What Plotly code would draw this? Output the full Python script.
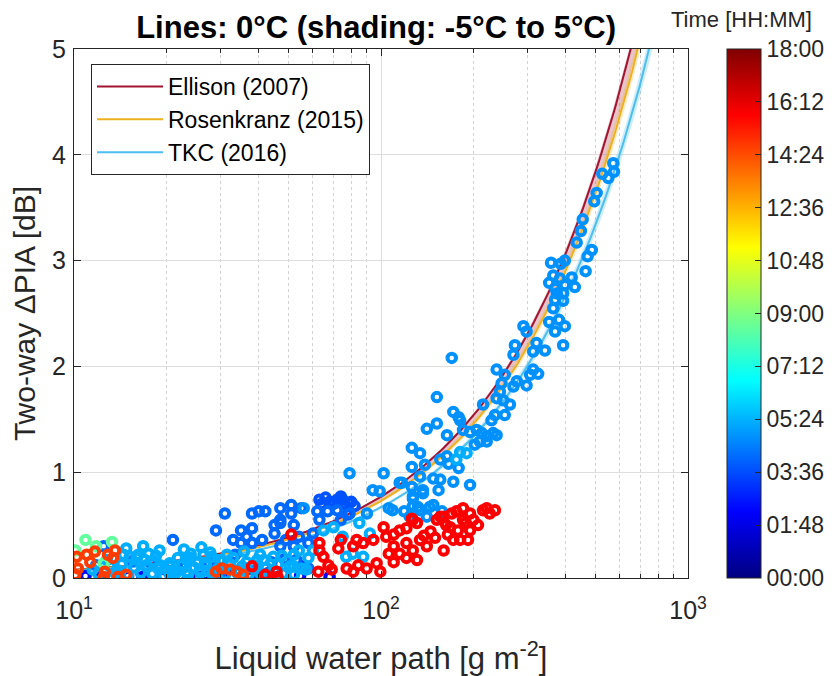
import numpy as np
import plotly.graph_objects as go

# ---------------- model relations (two-way dB per g m^-2) ----------------
model_names = ["Ellison (2007)", "Rosenkranz (2015)", "TKC (2016)"]
k_0C = [0.00768, 0.00728, 0.00668]
k_m5C = [0.00778, 0.00743, 0.00683]
k_p5C = [0.00734, 0.00712, 0.00652]
line_colors = ["#a2142f", "#edb120", "#4dbeee"]
band_colors = ["rgba(162,20,47,0.25)", "rgba(237,177,32,0.25)", "rgba(77,190,238,0.28)"]
lwp_grid = np.logspace(1, 3, 300)

# ---------------- observations (LWP g m^-2, dPIA dB), grouped by colour/time ----------------
# dark blue, ~02:24
lwp_g5 = [10.9, 12.2, 15.0, 16.7, 22.1, 25.3, 26.7, 32.7, 37.4, 54.5, 68, 56, 19.5, 29.0]
pia_g5 = [0.02, 0.01, 0.02, 0.01, 0.02, 0.01, 0.03, 0.02, 0.01, 0.02, 0.01, 0.11, 0.02, 0.02]
time_g5 = 2.4

# filled deep-blue cluster, ~03:40
lwp_g3 = [63, 68, 72, 75, 80, 79, 64, 70, 76, 66, 74, 78, 82]
pia_g3 = [0.74, 0.72, 0.74, 0.74, 0.72, 0.71, 0.70, 0.70, 0.70, 0.76, 0.77, 0.60, 0.68]
time_g3 = 3.7

# medium blue, ~04:05
lwp_g2 = [31, 38, 40, 42, 47, 51, 55, 51, 47, 45, 29, 21, 35, 36.5, 38, 33, 35, 38, 41, 45,
          47, 52, 49, 54, 60, 58, 52, 47, 62, 67, 72, 79, 63, 74, 12.5,
          15.5, 19.8, 27.5, 39, 44, 53, 58,
          11.8, 14.0, 17.8, 23.0, 30.0, 33.5, 43.0, 48.5]
pia_g2 = [0.61, 0.61, 0.63, 0.63, 0.66, 0.69, 0.66, 0.61, 0.55, 0.50, 0.45, 0.36, 0.45, 0.39, 0.47, 0.36, 0.33, 0.33, 0.36, 0.42,
          0.52, 0.50, 0.36, 0.39, 0.42, 0.33, 0.30, 0.30, 0.63, 0.63, 0.64, 0.61, 0.55, 0.55, 0.30,
          0.16, 0.08, 0.14, 0.07, 0.15, 0.17, 0.09,
          0.12, 0.05, 0.14, 0.11, 0.05, 0.22, 0.05, 0.18]
time_g2 = 4.1

# blue along the curves, ~04:48
lwp_g1 = [571, 574, 526, 550, 504, 495, 454, 448, 434, 486, 471, 464, 358, 385, 397, 364, 383, 418, 428, 353,
          369, 397, 374, 392, 369, 392, 364, 353, 380, 397, 369, 291, 298, 273, 321, 392, 270, 342, 313, 238,
          253, 313, 325, 306, 247, 277, 298, 270, 244, 238, 250, 215, 263, 253, 235, 229, 170, 152, 172, 179,
          181, 141, 152, 164, 185, 195, 205, 213, 221, 232, 238, 210, 221, 202, 164, 156, 166, 179, 126, 134,
          126, 139, 148, 156, 154, 172, 195, 117, 126, 137, 127, 134, 94, 99, 102, 79, 56, 90, 106, 115,
          127, 132, 144, 137, 127, 119, 109, 124, 134, 148, 141, 158]
pia_g1 = [3.92, 3.84, 3.82, 3.78, 3.64, 3.56, 3.39, 3.28, 3.17, 3.10, 3.04, 2.90, 2.98, 2.97, 3.00, 2.86, 2.83, 2.84, 2.75, 2.79,
          2.74, 2.77, 2.69, 2.69, 2.63, 2.62, 2.55, 2.42, 2.44, 2.38, 2.33, 2.38, 2.33, 2.20, 2.22, 2.20, 2.11, 2.15, 2.14, 1.97,
          1.92, 1.97, 1.93, 1.92, 1.84, 1.86, 1.82, 1.81, 1.76, 1.70, 1.68, 1.64, 1.64, 1.54, 1.54, 1.49, 2.08, 1.71, 1.57, 1.52,
          1.49, 1.41, 1.46, 1.35, 1.40, 1.38, 1.40, 1.37, 1.34, 1.37, 1.35, 1.29, 1.29, 1.26, 1.15, 1.12, 1.08, 1.04, 1.23, 1.18,
          1.05, 1.07, 0.94, 0.93, 0.83, 0.91, 0.88, 0.90, 0.86, 0.83, 0.75, 0.96, 0.83, 0.82, 0.99, 0.99, 0.66, 0.61, 0.66, 0.90,
          0.77, 0.67, 0.67, 0.80, 0.68, 0.63, 0.64, 0.58, 0.64, 0.69, 0.58, 0.63]
time_g1 = 4.8

# light blue, ~05:18
lwp_g4 = [13.1, 14.3, 15.7, 17.2, 18.8, 20.5, 22.5, 24.6, 26.9, 29.5, 32.2, 35.3, 38.6, 42.2, 46.2, 50.5, 55.3,
          12.0, 13.6, 15.0, 16.5, 18.0, 19.6, 21.5, 23.5, 25.8, 28.2, 31.0, 34.0, 37.0, 40.5, 44.0, 48.0, 52.0,
          14.5, 16.2, 17.5, 19.1, 20.5, 23.3, 25.1, 26.4, 28.1, 29.9, 33.0, 36.5, 40.4, 44.6, 20.5, 23.3, 25.7,
          54, 60, 52, 58, 65, 70, 75, 85, 92, 81, 87.5, 52, 57, 77, 181, 190, 176,
          11.5, 12.8, 14.0, 16.0, 18.2, 21.0, 24.0, 27.2, 30.5, 34.5, 39.5, 45.0,
          13.5, 15.2, 17.0, 18.5, 21.8, 24.0, 27.8, 31.5, 35.8, 41.5, 47.5, 14.8, 16.8, 19.0, 22.8, 26.0]
pia_g4 = [0.11, 0.13, 0.10, 0.12, 0.09, 0.11, 0.13, 0.10, 0.12, 0.09, 0.13, 0.11, 0.12, 0.10, 0.13, 0.11, 0.09,
          0.04, 0.05, 0.03, 0.05, 0.04, 0.02, 0.05, 0.03, 0.05, 0.04, 0.03, 0.05, 0.03, 0.04, 0.02, 0.04, 0.03,
          0.22, 0.22, 0.23, 0.12, 0.14, 0.17, 0.15, 0.22, 0.20, 0.17, 0.19, 0.15, 0.22, 0.20, 0.04, 0.06, 0.08,
          0.26, 0.26, 0.22, 0.19, 0.45, 0.48, 0.39, 0.52, 0.42, 0.23, 0.20, 0.11, 0.08, 0.20, 1.19, 1.18, 1.12,
          0.08, 0.17, 0.07, 0.19, 0.16, 0.07, 0.19, 0.07, 0.16, 0.07, 0.17, 0.07,
          0.18, 0.20, 0.17, 0.21, 0.19, 0.23, 0.24, 0.22, 0.25, 0.17, 0.21, 0.28, 0.30, 0.26, 0.27, 0.29]
time_g4 = 5.3

# green, ~08:30
lwp_g8 = [10.9, 13.3, 10.1, 12.5, 11.8]
pia_g8 = [0.36, 0.34, 0.26, 0.14, 0.30]
time_g8 = 8.5

# orange-red, ~14:40
lwp_g7 = [10.2, 11.0, 11.7, 11.3, 10.3, 10.1, 12.9, 13.6, 13.4, 12.6, 12.5, 13.9, 14.8, 29, 30.3, 32.2, 33.9, 35.6]
pia_g7 = [0.20, 0.22, 0.25, 0.15, 0.09, 0.03, 0.22, 0.26, 0.19, 0.06, 0.01, 0.01, 0.03, 0.06, 0.09, 0.08, 0.06, 0.03]
time_g7 = 14.7

# red, ~15:50
lwp_g6 = [63, 63, 64.9, 62.5, 67.4, 72.6, 74, 69.1, 77.3, 81.2, 84.3, 89.8, 81.2, 83.3, 87.5, 94.4, 96.8, 99.5, 51, 38,
          42, 45.7, 46, 126, 156, 170, 185, 195, 221, 235, 215, 226, 207, 195, 185, 192, 178, 181, 165,
          102, 104, 110, 115, 121, 127, 131, 110, 121, 134, 115, 127, 141, 152, 160, 168, 176, 172, 160, 121,
          131, 106, 110, 145, 138, 150, 163, 200, 188]
pia_g6 = [0.33, 0.26, 0.20, 0.06, 0.12, 0.28, 0.36, 0.08, 0.09, 0.06, 0.12, 0.09, 0.30, 0.36, 0.33, 0.36, 0.14, 0.06, 0.41, 0.11,
          0.03, 0.06, 0.01, 0.56, 0.58, 0.61, 0.66, 0.61, 0.66, 0.64, 0.64, 0.61, 0.50, 0.45, 0.55, 0.36, 0.45, 0.36, 0.41,
          0.48, 0.39, 0.41, 0.45, 0.47, 0.55, 0.52, 0.30, 0.33, 0.36, 0.23, 0.26, 0.30, 0.55, 0.58, 0.48, 0.63, 0.36, 0.26, 0.19,
          0.17, 0.23, 0.15, 0.44, 0.40, 0.38, 0.50, 0.55, 0.52]
time_g6 = 15.8

# colorbar ticks
cb_tickvals = [0, 1.8, 3.6, 5.4, 7.2, 9.0, 10.8, 12.6, 14.4, 16.2, 18.0]
cb_ticktext = ["00:00", "01:48", "03:36", "05:24", "07:12", "09:00", "10:48", "12:36", "14:24", "16:12", "18:00"]

# x ticks
x_tickvals = [10, 100, 1000]
x_ticktext = ["10<sup>1</sup>", "10<sup>2</sup>", "10<sup>3</sup>"]
x_minor = [20, 30, 40, 50, 60, 70, 80, 90, 200, 300, 400, 500, 600, 700, 800, 900]

jet = [[0.0, "rgb(0,0,128)"], [0.125, "rgb(0,0,255)"], [0.375, "rgb(0,255,255)"],
       [0.625, "rgb(255,255,0)"], [0.875, "rgb(255,0,0)"], [1.0, "rgb(128,0,0)"]]

FONT = "Liberation Sans, Arial, Helvetica, sans-serif"
DARK = "#262626"

# page body adds an 8 px offset; figure is sized so that it fills the 832x676 window
W, H = 824, 668
ML, MT, MR, MB = 66, 41, 144, 98

fig = go.Figure()

# shading bands
for i in range(3):
    y_hi = k_m5C[i] * lwp_grid
    y_lo = k_p5C[i] * lwp_grid
    fig.add_trace(go.Scatter(
        x=np.concatenate([lwp_grid, lwp_grid[::-1]]),
        y=np.concatenate([y_hi, y_lo[::-1]]),
        fill="toself", fillcolor=band_colors[i], line=dict(width=0),
        mode="lines", showlegend=False, hoverinfo="skip"))

# 0 degC lines
for i in range(3):
    fig.add_trace(go.Scatter(
        x=lwp_grid, y=k_0C[i] * lwp_grid, mode="lines", name=model_names[i],
        line=dict(color=line_colors[i], width=2)))

# observations, in chronological order
groups = [(lwp_g5, pia_g5, time_g5), (lwp_g3, pia_g3, time_g3), (lwp_g2, pia_g2, time_g2),
          (lwp_g1, pia_g1, time_g1), (lwp_g4, pia_g4, time_g4), (lwp_g8, pia_g8, time_g8),
          (lwp_g7, pia_g7, time_g7), (lwp_g6, pia_g6, time_g6)]
all_x, all_y, all_t = [], [], []
for lx, py, t in groups:
    all_x += list(lx)
    all_y += list(py)
    all_t += [t] * len(lx)

fig.add_trace(go.Scatter(
    x=all_x, y=all_y, mode="markers", showlegend=False,
    marker=dict(symbol="circle-open", size=8.5, line=dict(width=4),
                color=all_t, colorscale=jet, cmin=0, cmax=18,
                colorbar=dict(
                    x=1.0635, xanchor="left", xpad=0, y=0.5, yanchor="middle", ypad=0,
                    len=1, lenmode="fraction", thickness=34, thicknessmode="pixels",
                    outlinewidth=1, outlinecolor=DARK,
                    ticks="inside", ticklen=6, tickcolor=DARK,
                    tickvals=cb_tickvals, ticktext=cb_ticktext,
                    tickfont=dict(family=FONT, size=23, color=DARK)))))

fig.add_annotation(text="Time [HH:MM]", xref="paper", yref="paper",
                   x=(733 - ML) / (W - ML - MR), y=(H - MB - 12) / (H - MT - MB),
                   xanchor="center", yanchor="middle", showarrow=False,
                   font=dict(family=FONT, size=22, color=DARK))

fig.update_layout(
    width=W, height=H,
    margin=dict(l=ML, r=MR, t=MT, b=MB, autoexpand=False),
    paper_bgcolor="white", plot_bgcolor="white",
    font=dict(family=FONT, color=DARK),
    title=dict(text="<b>Lines: 0°C (shading: -5°C to 5°C)</b>", x=0.492, xref="paper",
               xanchor="center", y=1 - 19 / H, yref="container", yanchor="middle",
               font=dict(family=FONT, size=31, color="black")),
    legend=dict(x=0.0277, y=0.9716, xanchor="left", yanchor="top",
                bgcolor="white", bordercolor=DARK, borderwidth=1,
                font=dict(family=FONT, size=23, color="black"),
                itemwidth=66, tracegroupgap=0),
    xaxis=dict(type="log", range=[1, 3], tickmode="array", tickvals=x_tickvals, ticktext=x_ticktext,
               ticks="inside", ticklen=7, tickcolor=DARK, showline=True, linecolor=DARK, linewidth=1,
               mirror="allticks", showgrid=True, gridcolor="#dedede", zeroline=False,
               tickfont=dict(family=FONT, size=25, color=DARK), ticklabelstandoff=10,
               minor=dict(tickmode="array", tickvals=x_minor, ticks="inside", ticklen=4,
                          tickcolor=DARK, showgrid=True, gridcolor="#d2d2d2", griddash="dot"),
               title=dict(text="Liquid water path [g m<sup>-2</sup>]", standoff=24,
                          font=dict(family=FONT, size=31, color=DARK))),
    yaxis=dict(range=[0, 5], tickmode="array", tickvals=[0, 1, 2, 3, 4, 5],
               ticks="inside", ticklen=7, tickcolor=DARK, showline=True, linecolor=DARK, linewidth=1,
               mirror="allticks", showgrid=True, gridcolor="#dedede", zeroline=False,
               tickfont=dict(family=FONT, size=25, color=DARK), ticklabelstandoff=2,
               title=dict(text="Two-way ΔPIA [dB]", standoff=12,
                          font=dict(family=FONT, size=30, color=DARK))),
)

fig.write_html("out.html")
